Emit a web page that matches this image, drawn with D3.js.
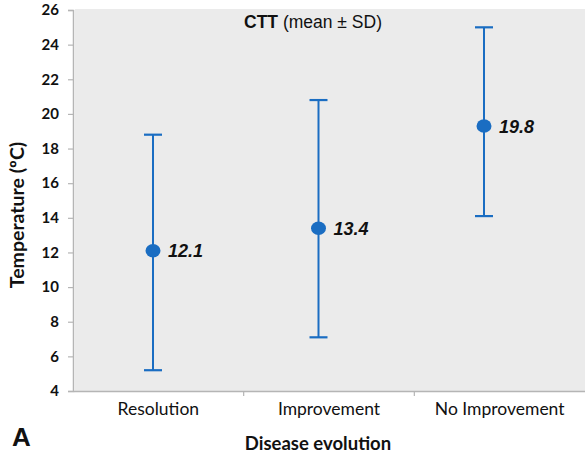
<!DOCTYPE html>
<html><head><meta charset="utf-8">
<script src="https://cdn.jsdelivr.net/npm/d3@7"></script>
<style>body{margin:0;background:#fff}svg{display:block}</style>
</head><body><svg id="c" width="585" height="461"></svg>
<script>
const categories = ["Resolution", "Improvement", "No Improvement"];
const means = [12.1, 13.4, 19.3];
const lower = [5.2, 7.1, 14.1];
const upper = [18.8, 20.8, 25.0];
const valueLabels = ["12.1", "13.4", "19.8"];
const yTicks = [4, 6, 8, 10, 12, 14, 16, 18, 20, 22, 24, 26];

(function () {
const svg = d3.select("#c");
const pL = 73, pR = 585, pT = 10, pB = 391;
const y = d3.scaleLinear().domain([4, 26]).range([pB, pT]);
const xBand = d3.scaleBand().domain(categories).range([pL, pR]);
const xPt = d3.scalePoint().domain(categories).range([153, 484]);
const blue = "#1a6dc2";

svg.append("rect").attr("x", pL + 2).attr("y", pT - 1).attr("width", pR - pL - 2).attr("height", pB - pT + 1).attr("fill", "#ebebeb");

// y axis
const yAxis = svg.append("g").attr("transform", `translate(${pL},0)`)
  .call(d3.axisLeft(y).tickValues(yTicks).tickSize(5).tickPadding(9).tickFormat(d3.format("d")));
yAxis.select(".domain").attr("stroke", "#b5b5b5").attr("stroke-width", 1.5);
yAxis.selectAll(".tick line").attr("stroke", "#b5b5b5").attr("stroke-width", 1.2);
yAxis.selectAll("text").attr("font-family", "Lato, 'Open Sans', sans-serif").attr("font-weight", "bold").attr("font-size", 15).attr("fill", "#111");

// x axis
const xAxis = svg.append("g").attr("transform", `translate(0,${pB})`)
  .call(d3.axisBottom(xBand).tickSize(0).tickPadding(12));
xAxis.select(".domain").attr("stroke", "#b5b5b5").attr("stroke-width", 1.5);
xAxis.selectAll("text").attr("font-family", "Lato, 'Open Sans', sans-serif").attr("font-size", 17.5).attr("fill", "#111");
xAxis.selectAll(".sep").data(categories.slice(1)).enter().append("line")
  .attr("x1", d => xBand(d)).attr("x2", d => xBand(d)).attr("y1", 0).attr("y2", 5)
  .attr("stroke", "#b5b5b5").attr("stroke-width", 1.2);

// error bars
const g = svg.append("g");
categories.forEach((c, i) => {
  const cx = xPt(c);
  g.append("line").attr("x1", cx).attr("x2", cx).attr("y1", y(lower[i])).attr("y2", y(upper[i])).attr("stroke", blue).attr("stroke-width", 2);
  [lower[i], upper[i]].forEach(v => {
    g.append("line").attr("x1", cx - 9).attr("x2", cx + 9).attr("y1", y(v)).attr("y2", y(v)).attr("stroke", blue).attr("stroke-width", 2.2);
  });
  g.append("ellipse").attr("cx", cx).attr("cy", y(means[i])).attr("rx", 7.5).attr("ry", 6.8).attr("fill", blue);
  g.append("text").attr("x", cx + 15).attr("y", y(means[i]) + 6.5).text(valueLabels[i])
    .attr("font-family", "'Liberation Sans', Arial, sans-serif").attr("font-weight", "bold").attr("font-style", "italic").attr("font-size", 18).attr("fill", "#111");
});

// title
const t = svg.append("text").attr("x", 313).attr("y", 28).attr("text-anchor", "middle")
  .attr("font-family", "'Liberation Sans', Arial, sans-serif").attr("font-size", 17.5).attr("fill", "#111");
t.append("tspan").attr("font-weight", "bold").text("CTT");
t.append("tspan").text(" (mean ± SD)");

// axis titles
svg.append("text").attr("transform", "translate(24,215) rotate(-90)").attr("text-anchor", "middle")
  .attr("font-family", "Lato, 'Open Sans', sans-serif").attr("font-weight", "bold").attr("font-size", 19.5).attr("fill", "#111")
  .text("Temperature (ºC)");
svg.append("text").attr("x", 318).attr("y", 450).attr("text-anchor", "middle")
  .attr("font-family", "Lato, 'Open Sans', sans-serif").attr("font-weight", "bold").attr("font-size", 18.5).attr("fill", "#111")
  .text("Disease evolution");
svg.append("text").attr("x", 12).attr("y", 446)
  .attr("font-family", "'Liberation Sans', Arial, sans-serif").attr("font-weight", "bold").attr("font-size", 26).attr("fill", "#111")
  .text("A");
})();
</script></body></html>
